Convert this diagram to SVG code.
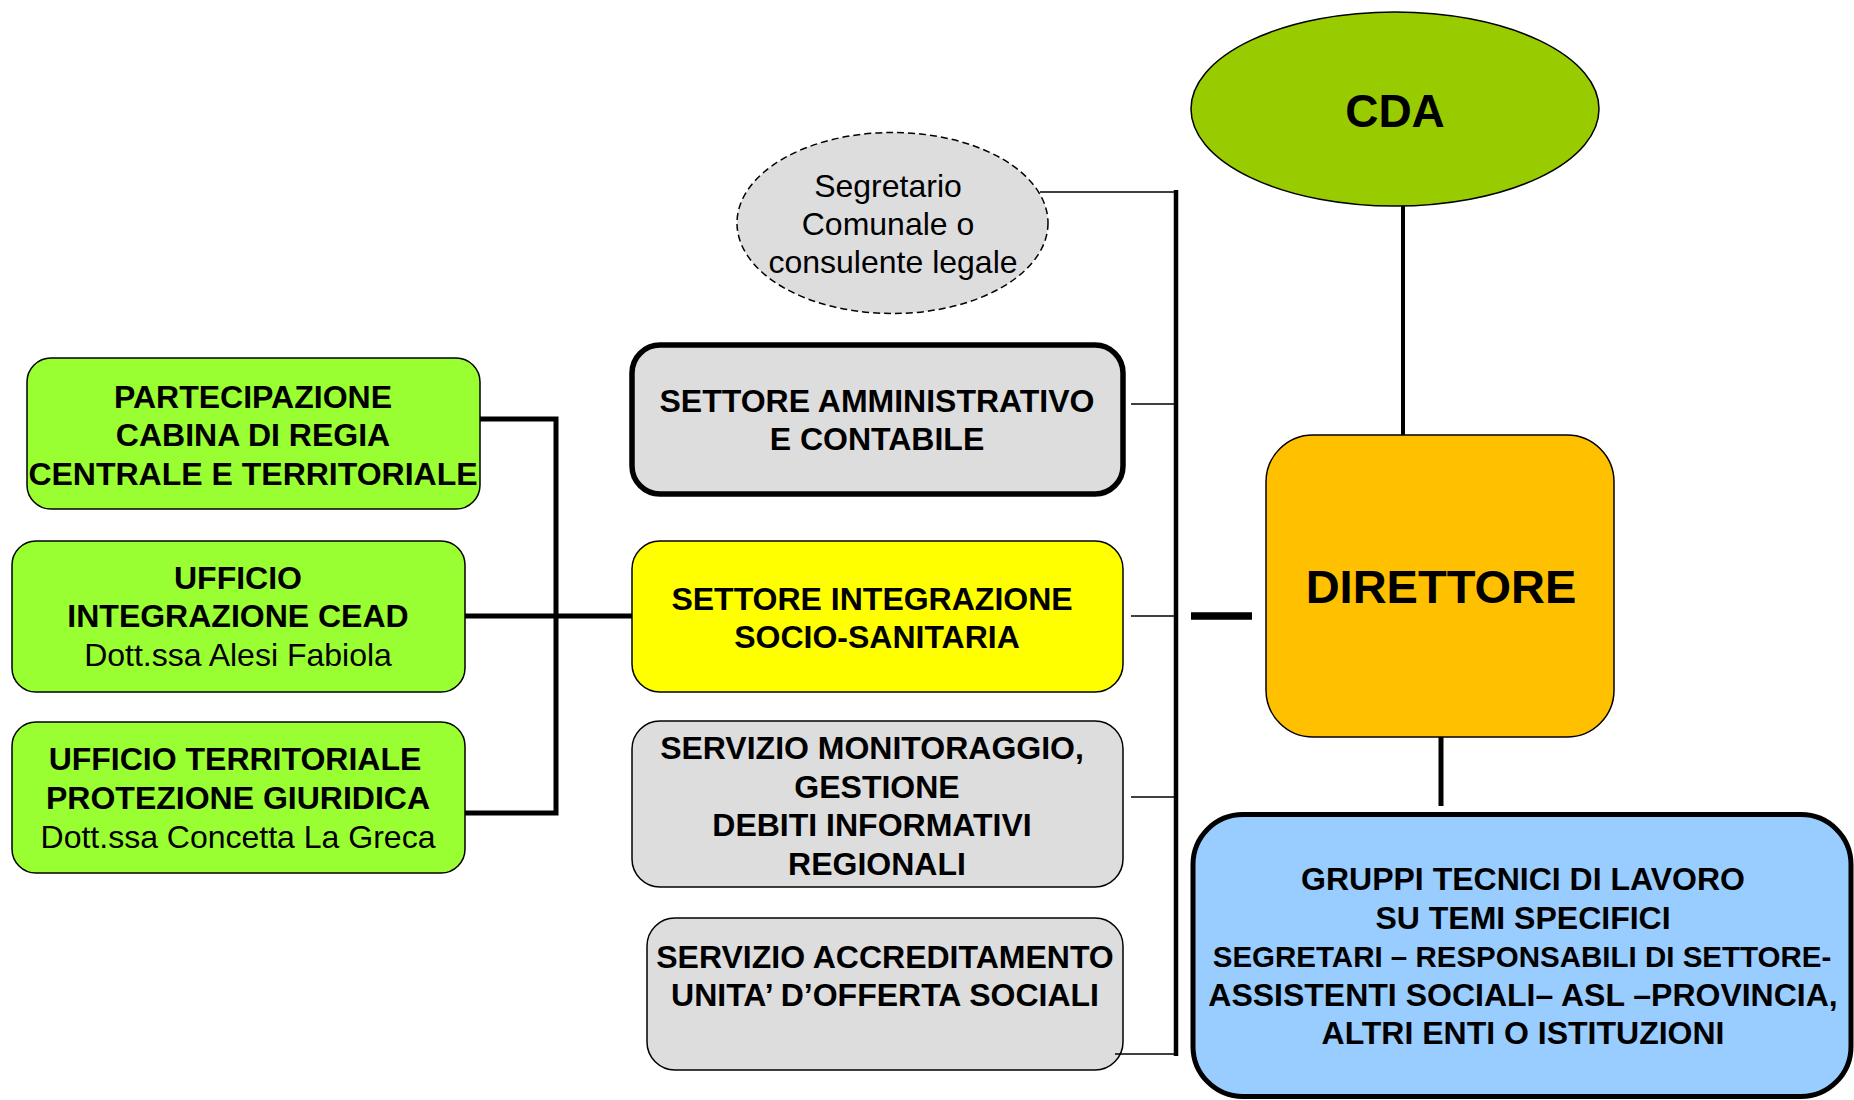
<svg xmlns="http://www.w3.org/2000/svg" width="1854" height="1100" viewBox="0 0 1854 1100">
<defs>
<style>
.b{font-family:"Liberation Sans",Arial,sans-serif;font-weight:bold;font-size:32px;text-anchor:middle;fill:#000}
.r{font-family:"Liberation Sans",Arial,sans-serif;font-weight:normal;font-size:32px;text-anchor:middle;fill:#000}
.box{stroke:#000;stroke-width:1.5}
.thick{stroke:#000;stroke-width:5.5}
.grey{fill:#DDDDDD}
.green{fill:#99FF33}
.thin{stroke:#000;stroke-width:1.5;fill:none}
.bold{stroke:#000;stroke-width:5;fill:none}
</style>
</defs>
<rect width="1854" height="1100" fill="#fff"/>

<g id="cda">
<ellipse cx="1395" cy="109" rx="204" ry="97" fill="#99CC00" class="box"/>
<text x="1395" y="127" class="b" style="font-size:46px">CDA</text>
</g>

<g id="segretario">
<ellipse cx="892.5" cy="223" rx="155.5" ry="90.5" class="grey" stroke="#000" stroke-width="1.5" stroke-dasharray="7 4"/>
<text x="888" y="197" class="r">Segretario</text>
<text x="888" y="235" class="r">Comunale o</text>
<text x="893" y="273" class="r">consulente legale</text>
</g>

<g id="settore-amm">
<rect x="632" y="345" width="491" height="149" rx="28" class="grey thick"/>
<text x="877" y="412" class="b">SETTORE AMMINISTRATIVO</text>
<text x="877" y="450" class="b">E CONTABILE</text>
</g>

<g id="settore-integr">
<rect x="632" y="541" width="491" height="151" rx="28" fill="#FFFF00" class="box"/>
<text x="872" y="610" class="b">SETTORE INTEGRAZIONE</text>
<text x="877" y="648" class="b">SOCIO-SANITARIA</text>
</g>

<g id="servizio-monit">
<rect x="632" y="721" width="491" height="166" rx="28" class="grey box"/>
<text x="872" y="759" class="b">SERVIZIO MONITORAGGIO,</text>
<text x="877" y="798" class="b">GESTIONE</text>
<text x="872" y="836" class="b">DEBITI INFORMATIVI</text>
<text x="877" y="875" class="b">REGIONALI</text>
</g>

<g id="servizio-accred">
<rect x="647" y="918" width="476" height="152" rx="28" class="grey box"/>
<text x="885" y="968" class="b">SERVIZIO ACCREDITAMENTO</text>
<text x="885" y="1006" class="b">UNITA’ D’OFFERTA SOCIALI</text>
</g>

<g id="partecipazione">
<rect x="27" y="358" width="453" height="151" rx="24" class="green box"/>
<text x="253" y="408" class="b">PARTECIPAZIONE</text>
<text x="253" y="446" class="b">CABINA DI REGIA</text>
<text x="253" y="485" class="b">CENTRALE E TERRITORIALE</text>
</g>

<g id="ufficio-cead">
<rect x="12" y="541" width="453" height="151" rx="24" class="green box"/>
<text x="238" y="589" class="b">UFFICIO</text>
<text x="238" y="627" class="b">INTEGRAZIONE CEAD</text>
<text x="238" y="666" class="r">Dott.ssa Alesi Fabiola</text>
</g>

<g id="ufficio-territoriale">
<rect x="12" y="722" width="453" height="151" rx="24" class="green box"/>
<text x="235" y="770" class="b">UFFICIO TERRITORIALE</text>
<text x="238" y="809" class="b">PROTEZIONE GIURIDICA</text>
<text x="238" y="848" class="r">Dott.ssa Concetta La Greca</text>
</g>

<g id="direttore">
<rect x="1266" y="435" width="348" height="302" rx="47" fill="#FFC000" class="box"/>
<text x="1441" y="603" class="b" style="font-size:47px">DIRETTORE</text>
</g>

<g id="gruppi">
<rect x="1193" y="814.5" width="658" height="282" rx="50" fill="#99CCFF" stroke="#000" stroke-width="5"/>
<text x="1523" y="890" class="b">GRUPPI TECNICI DI LAVORO</text>
<text x="1523" y="929" class="b">SU TEMI SPECIFICI</text>
<text x="1522" y="967" class="b" style="font-size:29.5px">SEGRETARI – RESPONSABILI DI SETTORE-</text>
<text x="1523" y="1006" class="b">ASSISTENTI SOCIALI– ASL –PROVINCIA,</text>
<text x="1523" y="1044" class="b">ALTRI ENTI O ISTITUZIONI</text>
</g>

<g id="connectors">
<line x1="1403" y1="206" x2="1403" y2="435" stroke="#000" stroke-width="4"/>
<line x1="1441" y1="737" x2="1441" y2="806" stroke="#000" stroke-width="5"/>
<line x1="1176" y1="190" x2="1176" y2="1056" stroke="#000" stroke-width="4.5"/>
<path class="thin" d="M1040,192 H1176"/>
<path class="thin" d="M1131,404 H1176"/>
<path class="thin" d="M1131,616 H1176"/>
<path class="thin" d="M1131,797 H1176"/>
<path class="thin" d="M1115,1054 H1176"/>
<line x1="1191" y1="616" x2="1252" y2="616" stroke="#000" stroke-width="7.5"/>
<path class="bold" d="M480,419 H556 V813 H465"/>
<path class="bold" d="M465,616 H632"/>
</g>
</svg>
